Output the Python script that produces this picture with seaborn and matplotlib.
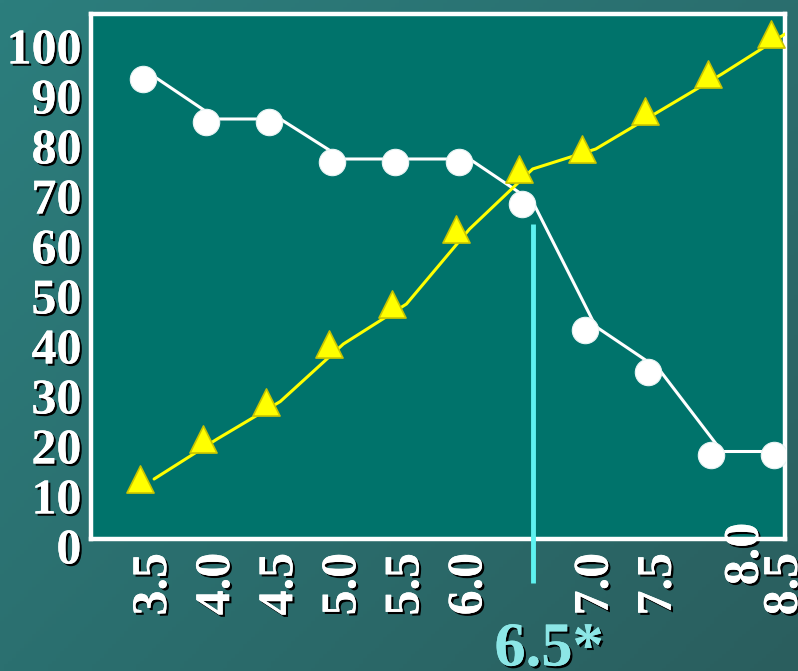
import numpy as np
import pandas as pd
import matplotlib
matplotlib.use("Agg")
import matplotlib.pyplot as plt
import matplotlib.patheffects as pe
from matplotlib.transforms import ScaledTranslation
import seaborn as sns

# ---- data ----
ph = [3.5, 4.0, 4.5, 5.0, 5.5, 6.0, 6.5, 7.0, 7.5, 8.0, 8.5]
series_circle = [92.5, 84, 84, 76, 76, 76, 67.5, 42.5, 34, 17.5, 17.5]
series_triangle = [12, 20, 27.5, 39, 47, 62, 74, 78, 85.5, 93, 101]
y_ticks = [0, 10, 20, 30, 40, 50, 60, 70, 80, 90, 100]
x_ticks = [3.5, 4.0, 4.5, 5.0, 5.5, 6.0, 6.5, 7.0, 7.5, 8.0, 8.5]
x_tick_labels = ["3.5", "4.0", "4.5", "5.0", "5.5", "6.0", "", "7.0", "7.5", "8.0", "8.5"]
marker_line_top = 63
highlight_label = "6.5*"
highlight_x = 6.5

df = pd.DataFrame({"ph": ph, "circle": series_circle, "triangle": series_triangle})

sns.set_theme(style="white")
plt.rcParams["font.family"] = ["Liberation Serif", "DejaVu Serif"]

DPI = 100
fig = plt.figure(figsize=(7.98, 6.71), dpi=DPI)

# gradient background
bg = fig.add_axes([0, 0, 1, 1], zorder=-10)
h, w = 200, 200
yy, xx = np.mgrid[0:1:h*1j, 0:1:w*1j]
c_tl = np.array([0x2C, 0x7E, 0x7D]) / 255
c_br = np.array([0x2A, 0x5E, 0x5E]) / 255
c_bl = np.array([0x2B, 0x70, 0x70]) / 255
c_tr = np.array([0x2A, 0x6E, 0x6E]) / 255
img = (c_tl[None, None, :] * ((1 - xx) * (1 - yy))[..., None]
       + c_tr[None, None, :] * (xx * (1 - yy))[..., None]
       + c_bl[None, None, :] * ((1 - xx) * yy)[..., None]
       + c_br[None, None, :] * (xx * yy)[..., None])
bg.imshow(img, aspect="auto", extent=[0, 1, 0, 1], origin="upper")
bg.set_axis_off()

ax = fig.add_axes([91/798, 1 - 539/671, (785 - 91)/798, (539 - 14)/671])
ax.set_facecolor("#00736B")

mk_off = ax.transData + ScaledTranslation(-11/DPI, -3/DPI, fig.dpi_scale_trans)

# lines
sns.lineplot(data=df, x="ph", y="circle", ax=ax, color="white", lw=2.2, zorder=3)
sns.lineplot(data=df, x="ph", y="triangle", ax=ax, color="#FFFF00", lw=2.2, zorder=3)

# markers
sns.scatterplot(data=df, x="ph", y="circle", ax=ax, s=19**2, color="white",
                edgecolor="#E8F4F4", linewidth=0.8, zorder=5, marker="o")
coll_c = ax.collections[-1]
coll_c.set_offset_transform(mk_off)
sns.scatterplot(data=df, x="ph", y="triangle", ax=ax, s=19.5**2, color="#FFFF00",
                edgecolor="#C9C500", linewidth=1.2, zorder=4, marker="^")
coll_t = ax.collections[-1]
coll_t.set_offset_transform(ax.transData + ScaledTranslation(-14/DPI, 0/DPI, fig.dpi_scale_trans))

# cyan vertical line
ax.plot([highlight_x, highlight_x], [marker_line_top, -8.8], color="#5EF2F0", lw=3.5,
        clip_on=False, zorder=6, solid_capstyle="butt")

ax.set_xlim(3.0, 8.5)
ax.set_ylim(0, 105)
ax.set_xlabel("")
ax.set_ylabel("")

for s in ax.spines.values():
    s.set_color("white")
    s.set_linewidth(3.2)
    s.set_visible(True)

shadow = [pe.withSimplePatchShadow(offset=(1.6, -1.6), shadow_rgbFace="black", alpha=1.0), pe.Normal()]

ax.set_yticks(y_ticks)
ax.set_yticklabels([str(v) for v in y_ticks])
ax.set_xticks(x_ticks)
ax.set_xticklabels(x_tick_labels, rotation=90)
ax.tick_params(axis="both", direction="in", length=9, width=2.5, color="white",
               labelcolor="white", labelsize=36)
ax.tick_params(axis="y", pad=7)
ax.tick_params(axis="x", pad=10)

for lab in ax.get_yticklabels():
    lab.set_fontweight("bold")
    lab.set_path_effects(shadow)
    lab.set_transform(lab.get_transform() + ScaledTranslation(0, -7/DPI, fig.dpi_scale_trans))
for lab in ax.get_xticklabels():
    lab.set_fontweight("bold")
    lab.set_path_effects(shadow)
    lab.set_verticalalignment("top")
    if lab.get_text() == "8.0":
        lab.set_transform(lab.get_transform() + ScaledTranslation(24/DPI, 30/DPI, fig.dpi_scale_trans))

# highlighted value label
ax.text(highlight_x + 0.13, -16.5, highlight_label, color="#8CE6E6", fontsize=45,
        fontweight="bold", ha="center", va="top", clip_on=False,
        path_effects=[pe.withSimplePatchShadow(offset=(1.6, -1.6), shadow_rgbFace="black", alpha=1.0), pe.Normal()])

fig.savefig("out.png", dpi=DPI)
